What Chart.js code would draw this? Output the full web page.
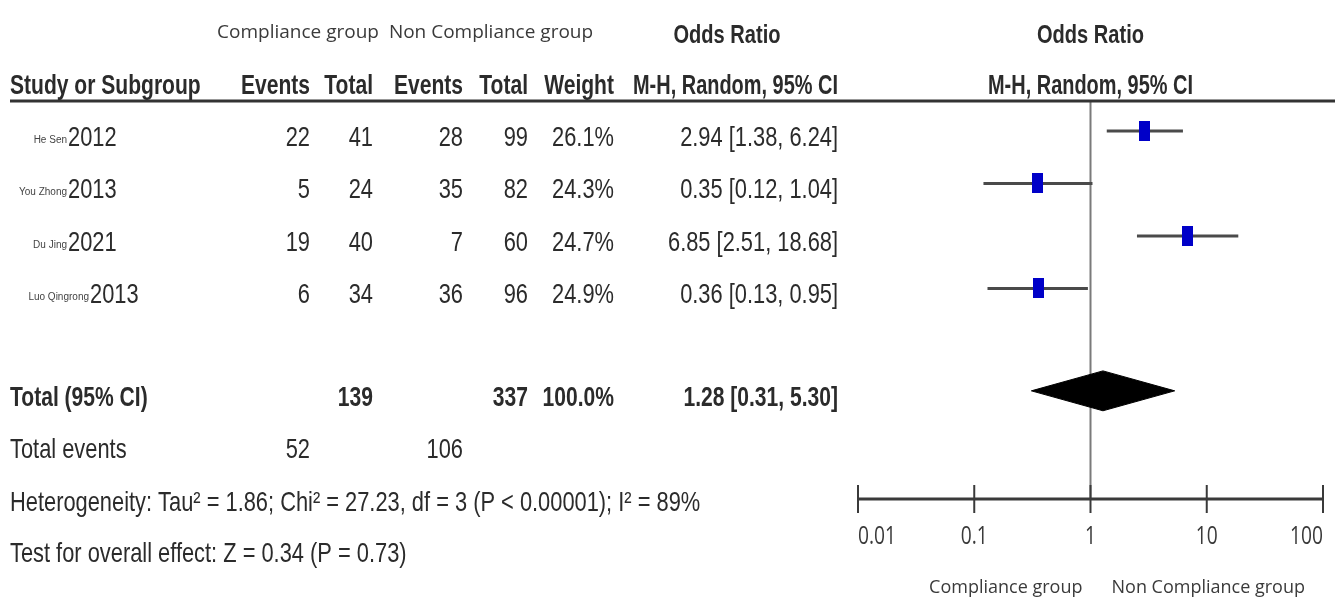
<!DOCTYPE html>
<html>
<head>
<meta charset="utf-8">
<script src="https://cdn.jsdelivr.net/npm/chart.js@4.4.1/dist/chart.umd.min.js"></script>
<style>
  html, body { margin: 0; padding: 0; background: #fff; }
  #wrap { width: 1335px; height: 605px; position: relative; }
</style>
</head>
<body>
<div id="wrap"><canvas id="forest"></canvas></div>
<script>
// study data
const studies = ["He Sen", "You Zhong", "Du Jing", "Luo Qingrong"];
const years = ["2012", "2013", "2021", "2013"];
const compEvents = [22, 5, 19, 6];
const compTotal = [41, 24, 40, 34];
const nonEvents = [28, 35, 7, 36];
const nonTotal = [99, 82, 60, 96];
const weights = ["26.1%", "24.3%", "24.7%", "24.9%"];
const oddsRatio = [2.94, 0.35, 6.85, 0.36];
const ciLow = [1.38, 0.12, 2.51, 0.13];
const ciHigh = [6.24, 1.04, 18.68, 0.95];

// pooled result
const pooledOR = 1.28;
const pooledLow = 0.31;
const pooledHigh = 5.30;
const groupTotals = [139, 337];
const groupEvents = [52, 106];
const heterogeneity = "Heterogeneity: Tau\u00b2 = 1.86; Chi\u00b2 = 27.23, df = 3 (P < 0.00001); I\u00b2 = 89%";
const overallEffect = "Test for overall effect: Z = 0.34 (P = 0.73)";

// axis
const xTicks = [0.01, 0.1, 1, 10, 100];
const tickLabels = ["0.01", "0.1", "1", "10", "100"];

// row positions (in row units on the y scale)
const totalRow = 4.95;
const eventsRow = 5.95;
const hetRow = 6.95;
const testRow = 7.93;
const diamondHalf = 0.38;

// label layout
const nameEnd = [67, 67, 67, 89];
const colRight = [310, 373, 463, 528, 614, 838];

// is the narrow face installed? compare against a monospace fallback
const probe = document.createElement("canvas").getContext("2d");
probe.font = '40px "Liberation Sans Narrow", monospace';
const wNarrow = probe.measureText("Study or Subgroup 0123456789").width;
probe.font = "40px monospace";
const wMono = probe.measureText("Study or Subgroup 0123456789").width;
const hasNarrow = Math.abs(wNarrow - wMono) > 1;
const FAM = hasNarrow ? '"Liberation Sans Narrow", sans-serif' : '"Liberation Sans", Arial, sans-serif';
const SQ = hasNarrow ? 0.95 : 0.78;

function drawText(ctx, str, x, y, font, align, color, sx, maxW) {
  ctx.save();
  ctx.font = font;
  ctx.fillStyle = color || "#2b2b2b";
  ctx.textAlign = align || "left";
  ctx.textBaseline = "alphabetic";
  ctx.translate(x, y);
  const s = sx || SQ;
  ctx.scale(s, 1);
  if (maxW) ctx.fillText(str, 0, 0, maxW / s);
  else ctx.fillText(str, 0, 0);
  ctx.restore();
}

const fmtCI = (e, l, h) => e.toFixed(2) + " [" + l.toFixed(2) + ", " + h.toFixed(2) + "]";

// blue weight squares
const squareImg = document.createElement("canvas");
squareImg.width = 11;
squareImg.height = 20;
const sctx = squareImg.getContext("2d");
sctx.fillStyle = "#0000c8";
sctx.fillRect(0, 0, 11, 20);

const ciSets = studies.map((s, i) => ({
  data: [{ x: ciLow[i], y: i }, { x: ciHigh[i], y: i }],
  showLine: true,
  borderColor: "#4a4a4a",
  borderWidth: 3,
  pointRadius: 0,
  order: 2
}));

const tablePlugin = {
  id: "forestTable",
  afterDraw(chart) {
    const ctx = chart.ctx;
    const xs = chart.scales.x;
    const ys = chart.scales.y;
    const area = chart.chartArea;
    const DATA = "28px " + FAM;
    const BOLD = "bold 27px " + FAM;
    const x1 = xs.getPixelForValue(1);

    // header rule
    ctx.save();
    ctx.strokeStyle = "#333";
    ctx.lineWidth = 3;
    ctx.beginPath();
    ctx.moveTo(10, area.top);
    ctx.lineTo(1335, area.top);
    ctx.stroke();

    // x axis with ticks
    const ay = area.bottom;
    ctx.strokeStyle = "#3a3a3a";
    ctx.lineWidth = 3;
    ctx.beginPath();
    ctx.moveTo(xs.getPixelForValue(xTicks[0]), ay);
    ctx.lineTo(xs.getPixelForValue(xTicks[xTicks.length - 1]), ay);
    ctx.stroke();
    ctx.lineWidth = 2;
    xTicks.forEach(t => {
      const px = xs.getPixelForValue(t);
      ctx.beginPath();
      ctx.moveTo(px, ay - 14);
      ctx.lineTo(px, ay + 14);
      ctx.stroke();
    });
    ctx.restore();

    xTicks.forEach((t, i) => {
      const px = xs.getPixelForValue(t);
      const al = i === 0 ? "left" : (i === xTicks.length - 1 ? "right" : "center");
      drawText(ctx, tickLabels[i], px, ay + 45, '26px "Open Sans"', al, "#3a3a3a", 0.74);
    });
    drawText(ctx, "Compliance group", x1 - 8, 593, '18px "Open Sans"', "right", "#3a3a3a", 1);
    drawText(ctx, "Non Compliance group", x1 + 21, 593, '18px "Open Sans"', "left", "#3a3a3a", 1);

    // headers
    drawText(ctx, "Compliance group", 298, 38, '19px "Open Sans"', "center", "#3a3a3a", 1);
    drawText(ctx, "Non Compliance group", 491, 38, '19px "Open Sans"', "center", "#3a3a3a", 1);
    drawText(ctx, "Odds Ratio", 727, 43, "bold 26px " + FAM, "center", null, null, 107);
    drawText(ctx, "Odds Ratio", x1, 43, "bold 26px " + FAM, "center", null, null, 107);
    drawText(ctx, "Study or Subgroup", 10, 94, BOLD, "left", null, null, 195);
    ["Events", "Total", "Events", "Total", "Weight", "M-H, Random, 95% CI"].forEach((h, i) => {
      drawText(ctx, h, colRight[i], 94, BOLD, "right", null, null, i === 5 ? 205 : null);
    });
    drawText(ctx, "M-H, Random, 95% CI", x1, 94, BOLD, "center", null, null, 205);

    // study rows
    studies.forEach((s, i) => {
      const by = ys.getPixelForValue(i) + 15;
      drawText(ctx, s, nameEnd[i], by - 3, '10px "Liberation Sans"', "right", "#444", 1);
      drawText(ctx, years[i], nameEnd[i] + 1, by, DATA, "left");
      const cells = [compEvents[i], compTotal[i], nonEvents[i], nonTotal[i], weights[i], fmtCI(oddsRatio[i], ciLow[i], ciHigh[i])];
      cells.forEach((c, k) => drawText(ctx, String(c), colRight[k], by, DATA, "right"));
    });

    // total row
    const ty = ys.getPixelForValue(totalRow) + 15;
    drawText(ctx, "Total (95% CI)", 10, ty, BOLD, "left");
    drawText(ctx, String(groupTotals[0]), colRight[1], ty, BOLD, "right");
    drawText(ctx, String(groupTotals[1]), colRight[3], ty, BOLD, "right");
    drawText(ctx, "100.0%", colRight[4], ty, BOLD, "right");
    drawText(ctx, fmtCI(pooledOR, pooledLow, pooledHigh), colRight[5], ty, BOLD, "right");

    const ey = ys.getPixelForValue(eventsRow) + 15;
    drawText(ctx, "Total events", 10, ey, DATA, "left");
    drawText(ctx, String(groupEvents[0]), colRight[0], ey, DATA, "right");
    drawText(ctx, String(groupEvents[1]), colRight[2], ey, DATA, "right");
    drawText(ctx, heterogeneity, 10, ys.getPixelForValue(hetRow) + 15, DATA, "left");
    drawText(ctx, overallEffect, 10, ys.getPixelForValue(testRow) + 15, DATA, "left");
  }
};

new Chart(document.getElementById("forest"), {
  type: "scatter",
  data: {
    datasets: [
      {
        // pooled diamond
        data: [
          { x: pooledLow, y: totalRow },
          { x: pooledOR, y: totalRow - diamondHalf },
          { x: pooledHigh, y: totalRow },
          { x: pooledOR, y: totalRow + diamondHalf },
          { x: pooledLow, y: totalRow }
        ],
        showLine: true,
        fill: "shape",
        borderColor: "#000",
        backgroundColor: "#000",
        borderWidth: 1,
        pointRadius: 0,
        order: 0
      },
      {
        data: oddsRatio.map((v, i) => ({ x: v, y: i })),
        pointStyle: squareImg,
        pointRadius: 6,
        order: 1
      },
      ...ciSets,
      {
        // line of no effect
        data: [{ x: 1, y: -0.57 }, { x: 1, y: 7.01 }],
        showLine: true,
        borderColor: "#7a7a7a",
        borderWidth: 2,
        pointRadius: 0,
        order: 5
      }
    ]
  },
  options: {
    responsive: true,
    maintainAspectRatio: false,
    animation: false,
    layout: { padding: { left: 858, right: 12, top: 101, bottom: 106 } },
    plugins: {
      legend: { display: false },
      tooltip: { enabled: false }
    },
    scales: {
      x: { type: "logarithmic", min: 0.01, max: 100, display: false },
      y: { type: "linear", min: -0.57, max: 7.01, reverse: true, display: false }
    }
  },
  plugins: [tablePlugin]
});
</script>
</body>
</html>
